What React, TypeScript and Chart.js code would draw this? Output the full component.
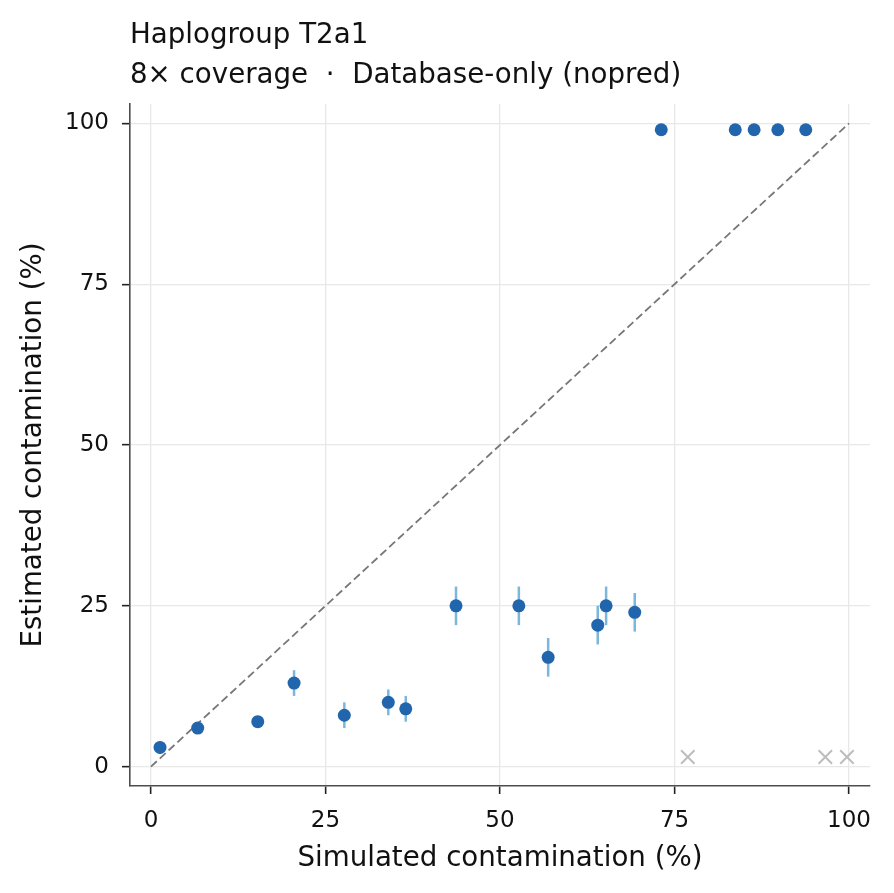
import React, { useEffect, useRef } from 'react';
import { Chart, registerables } from 'chart.js';

Chart.register(...registerables);

// simulated contamination (%) and the estimate for each run
const simulated = [1.3, 6.7, 15.3, 20.5, 27.7, 34.0, 36.5, 43.7, 52.7, 56.9, 64.0, 65.2, 69.3, 73.1, 83.7, 86.4, 89.8, 93.8];
const estimated = [3, 6, 7, 13, 8, 10, 9, 25, 25, 17, 22, 25, 24, 99, 99, 99, 99, 99];
const errors = [1, 0.5, 0.5, 2, 2, 2, 2, 3, 3, 3, 3, 3, 3, 0, 0, 0, 0, 0];

// runs where no estimate was returned
const failedX = [76.9, 96.6, 99.7];
const failedY = [1.5, 1.5, 1.5];

const tickValues = [0, 25, 50, 75, 100];

const FONT = "'DejaVu Sans', sans-serif";

const headerPlugin = {
  id: 'header',
  afterDraw(chart: Chart) {
    const { ctx, chartArea } = chart;
    ctx.save();
    ctx.fillStyle = '#111';
    ctx.font = `27.7px ${FONT}`;
    ctx.textAlign = 'left';
    ctx.textBaseline = 'alphabetic';
    ctx.fillText('Haplogroup T2a1', chartArea.left, 43);
    ctx.fillText('8\u00d7 coverage  \u00b7  Database-only (nopred)', chartArea.left, 83);
    ctx.restore();
  },
};

const errorBarPlugin = {
  id: 'errorBars',
  beforeDatasetsDraw(chart: Chart) {
    const { ctx } = chart;
    const xs = chart.scales.x;
    const ys = chart.scales.y;
    ctx.save();
    ctx.strokeStyle = 'rgba(100, 170, 215, 0.85)';
    ctx.lineWidth = 2.5;
    simulated.forEach((sx, i) => {
      const e = errors[i];
      if (!e) return;
      const px = xs.getPixelForValue(sx);
      ctx.beginPath();
      ctx.moveTo(px, ys.getPixelForValue(estimated[i] - e));
      ctx.lineTo(px, ys.getPixelForValue(estimated[i] + e));
      ctx.stroke();
    });
    ctx.restore();
  },
};

const App: React.FC = () => {
  const canvasRef = useRef<HTMLCanvasElement>(null);
  const chartRef = useRef<Chart | null>(null);

  useEffect(() => {
    document.body.style.margin = '0';
    if (!canvasRef.current) return;
    if (chartRef.current) chartRef.current.destroy();

    const scaleCommon = {
      type: 'linear' as const,
      min: -3,
      max: 103,
      grid: {
        color: '#e8e8e8',
        lineWidth: 1.3,
        tickColor: '#222',
        tickLength: 8,
        tickWidth: 1.6,
      },
      border: { color: '#4d4d4d', width: 1.6 },
      ticks: {
        color: '#111',
        font: { family: FONT, size: 23 },
        padding: 13,
      },
      afterBuildTicks: (scale: any) => {
        scale.ticks = tickValues.map((v) => ({ value: v }));
      },
    };

    chartRef.current = new Chart(canvasRef.current, {
      type: 'scatter',
      data: {
        datasets: [
          {
            label: 'estimate',
            data: simulated.map((x, i) => ({ x, y: estimated[i] })),
            backgroundColor: '#2166ac',
            borderWidth: 0,
            pointRadius: 6.5,
          },
          {
            label: 'failed',
            data: failedX.map((x, i) => ({ x, y: failedY[i] })),
            pointStyle: 'crossRot',
            borderColor: '#bdbdbd',
            borderWidth: 2,
            pointRadius: 9.5,
          },
          {
            type: 'line',
            label: 'identity',
            data: [
              { x: 0, y: 0 },
              { x: 100, y: 100 },
            ],
            borderColor: '#777',
            borderWidth: 1.8,
            borderDash: [8, 4],
            pointRadius: 0,
            fill: false,
          },
        ],
      },
      options: {
        responsive: false,
        animation: false,
        layout: { padding: { top: 104, right: 24, left: 0, bottom: 0 } },
        plugins: {
          legend: { display: false },
          tooltip: { enabled: false },
        },
        scales: {
          x: {
            ...scaleCommon,
            position: 'bottom',
            title: {
              display: true,
              text: 'Simulated contamination (%)',
              color: '#111',
              font: { family: FONT, size: 27.7 },
              padding: { top: 6, bottom: 18 },
            },
            afterFit: (scale: any) => {
              scale.height = 107;
            },
          },
          y: {
            ...scaleCommon,
            position: 'left',
            title: {
              display: true,
              text: 'Estimated contamination (%)',
              color: '#111',
              font: { family: FONT, size: 27.7 },
              padding: { top: 17, bottom: 8 },
            },
            afterFit: (scale: any) => {
              scale.width = 130;
            },
          },
        },
      },
      plugins: [errorBarPlugin, headerPlugin],
    });

    return () => {
      if (chartRef.current) {
        chartRef.current.destroy();
        chartRef.current = null;
      }
    };
  }, []);

  return (
    <div style={{ width: 894, height: 893, background: '#fff' }}>
      <canvas ref={canvasRef} width={894} height={893}></canvas>
    </div>
  );
};

export default App;
